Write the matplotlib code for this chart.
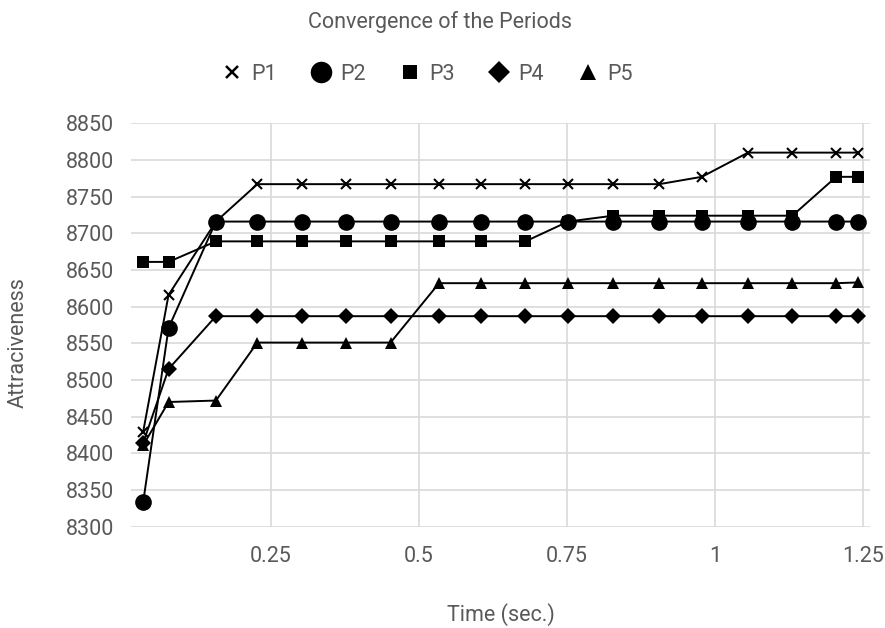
import matplotlib.pyplot as plt
from matplotlib.lines import Line2D

plt.rcParams['font.family'] = ['Roboto', 'DejaVu Sans']

# time (sec.) for each run
times = [0.034, 0.077, 0.157, 0.227, 0.302, 0.377, 0.452, 0.534, 0.605,
         0.680, 0.752, 0.828, 0.906, 0.978, 1.056, 1.131, 1.205, 1.242]

p1 = [8429, 8616, 8716, 8767, 8767, 8767, 8767, 8767, 8767,
      8767, 8767, 8767, 8767, 8777, 8810, 8810, 8810, 8810]
p2 = [8333, 8571, 8716, 8716, 8716, 8716, 8716, 8716, 8716,
      8716, 8716, 8716, 8716, 8716, 8716, 8716, 8716, 8716]
p3 = [8661, 8661, 8689, 8689, 8689, 8689, 8689, 8689, 8689,
      8689, 8716, 8724, 8724, 8724, 8724, 8724, 8777, 8777]
p4 = [8414, 8515, 8587, 8587, 8587, 8587, 8587, 8587, 8587,
      8587, 8587, 8587, 8587, 8587, 8587, 8587, 8587, 8587]
p5 = [8411, 8470, 8472, 8551, 8551, 8551, 8551, 8632, 8632,
      8632, 8632, 8632, 8632, 8632, 8632, 8632, 8632, 8633]

names = ['P1', 'P2', 'P3', 'P4', 'P5']
series = [p1, p2, p3, p4, p5]
markers = ['x', 'o', 's', 'D', '^']
msizes = [7, 12, 8.5, 8, 9]
leg_sizes = [8, 15.5, 10.5, 11, 11]

grey = '#595959'
fs = 15.5

fig = plt.figure(figsize=(8.85, 6.28), dpi=100)
ax = fig.add_axes([0.148, 0.1613, 0.835, 0.6424])

handles = []
for name, vals, m, ms, ls in zip(names, series, markers, msizes, leg_sizes):
    mew = 1.5 if m == 'x' else 0
    ax.plot(times, vals, color='black', lw=1.4, marker=m, markersize=ms,
            markeredgewidth=mew, markeredgecolor='black', markerfacecolor='black')
    handles.append(Line2D([], [], ls='none', marker=m, color='black',
                          markersize=ls, markeredgewidth=mew * 1.2))

ax.set_xlim(0.0135, 1.262)
ax.set_ylim(8300, 8850)
ax.set_xticks([0.25, 0.5, 0.75, 1, 1.25])
ax.set_xticklabels(['0.25', '0.5', '0.75', '1', '1.25'])
ax.set_yticks(range(8300, 8851, 50))
ax.grid(True, color='#d9d9d9', lw=1.2)
ax.set_axisbelow(True)
for s in ax.spines.values():
    s.set_visible(False)
ax.tick_params(length=0, labelsize=fs, labelcolor=grey)
ax.tick_params(axis='y', pad=12)
ax.tick_params(axis='x', pad=14)

fig.text(0.497, 0.965, 'Convergence of the Periods', ha='center', va='center',
         fontsize=fs, color=grey)
fig.text(0.566, 0.011, 'Time (sec.)', ha='center', va='baseline',
         fontsize=fs, color=grey)
fig.text(0.02, 0.454, 'Attraciveness', ha='center', va='center',
         rotation=90, fontsize=fs, color=grey)

leg = fig.legend(handles, names, loc='center', bbox_to_anchor=(0.483, 0.882),
                 ncol=5, frameon=False, fontsize=fs, handlelength=0.9,
                 handletextpad=0.45, columnspacing=1.6)
for t in leg.get_texts():
    t.set_color(grey)

fig.savefig('out.png', dpi=100)
